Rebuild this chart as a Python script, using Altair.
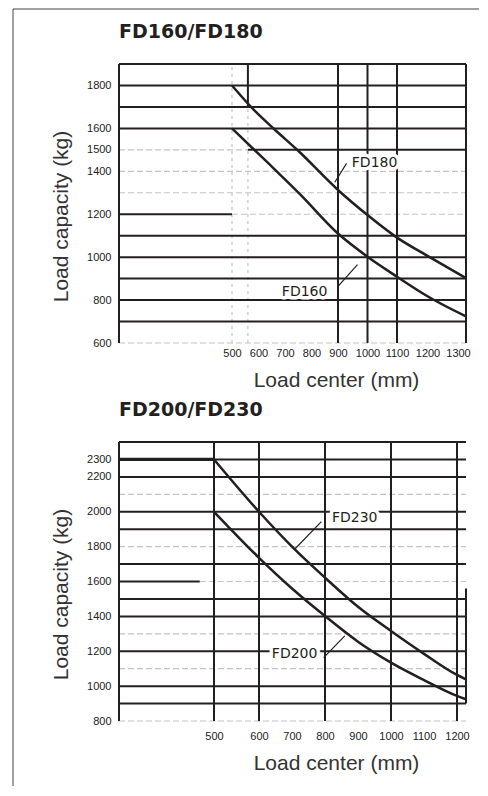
import altair as alt
import pandas as pd

INK = "#231f20"
FAINT = "#c4c4c4"

# ---------------- FD160 / FD180 (upper panel) ----------------
top_title = "FD160/FD180"
top_x_ticks = [500, 600, 700, 800, 900, 1000, 1100, 1200, 1300]
top_y_ticks = [600, 800, 1000, 1200, 1400, 1500, 1600, 1800]
top_x_breaks = [0, 500, 900, 1100, 1300, 1330]
top_x_range = [0, 113, 219, 278, 339, 347]
top_y_domain = [600, 1900]

fd180_x = [500, 578, 660, 748, 900, 1000, 1100, 1200, 1330]
fd180_y = [1800, 1692, 1596, 1498, 1313, 1196, 1091, 1006, 902]
fd160_x = [500, 635, 760, 900, 1000, 1100, 1200, 1330]
fd160_y = [1600, 1440, 1289, 1110, 1002, 909, 818, 724]

top_h_level = [1900, 1800, 1700, 1600, 1500, 1500, 1400, 1300, 1200, 1200, 1100, 1000, 900, 800, 700, 600]
top_h_from = [0, 0, 0, 0, 560, 0, 0, 0, 0, 500, 0, 0, 0, 0, 0, 0]
top_h_to = [1330, 1330, 1330, 1330, 1330, 560, 1330, 1330, 500, 1330, 1330, 1330, 1330, 1330, 1330, 1330]
top_h_style = ["solid", "solid", "solid", "solid", "solid", "faint", "faint", "faint",
               "solid", "faint", "solid", "solid", "solid", "solid", "solid", "faint"]

top_v_pos = [0, 1330, 900, 1000, 1100, 500, 560, 560]
top_v_from = [600, 600, 600, 600, 600, 600, 1700, 600]
top_v_to = [1900, 1900, 1900, 1900, 1900, 1900, 1900, 1700]
top_v_style = ["solid", "solid", "solid", "solid", "solid", "faint", "solid", "faint"]

top_ann_text = ["FD180", "FD160"]
top_ann_x = [1024, 774]
top_ann_y = [1437, 836]
top_lead_xa = [929, 900]
top_lead_ya = [1437, 864]
top_lead_xb = [888, 966]
top_lead_yb = [1349, 965]

# ---------------- FD200 / FD230 (lower panel) ----------------
bot_title = "FD200/FD230"
bot_x_ticks = [500, 600, 700, 800, 900, 1000, 1100, 1200]
bot_y_ticks = [800, 1000, 1200, 1400, 1600, 1800, 2000, 2200, 2300]
bot_x_breaks = [0, 500, 600, 1200, 1227]
bot_x_range = [0, 95, 140, 338, 347]
bot_y_domain = [800, 2400]

fd230_x = [500, 600, 700, 800, 900, 1000, 1100, 1200, 1227]
fd230_y = [2300, 2000, 1800, 1622, 1455, 1316, 1185, 1064, 1039]
fd230_flat_x = [0, 500]
fd230_flat_y = [2300, 2300]
fd200_x = [500, 600, 700, 800, 900, 1000, 1100, 1200, 1227]
fd200_y = [2000, 1736, 1560, 1402, 1255, 1135, 1035, 944, 925]

bot_h_level = [2400, 2300, 2200, 2100, 2000, 1900, 1800, 1700, 1600, 1600, 1500, 1400, 1300, 1200, 1100, 1000, 900, 800]
bot_h_from = [0, 0, 0, 0, 0, 0, 0, 0, 0, 425, 0, 0, 0, 0, 0, 0, 0, 0]
bot_h_to = [1227, 1227, 1227, 1227, 1227, 1227, 1227, 1227, 425, 1227, 1227, 1227, 1227, 1227, 1227, 1227, 1227, 1227]
bot_h_style = ["solid", "solid", "solid", "faint", "solid", "solid", "faint", "solid", "solid", "faint",
               "solid", "solid", "faint", "solid", "faint", "solid", "solid", "faint"]

bot_v_pos = [0, 500, 600, 800, 1000, 1200, 1227]
bot_v_from = [800, 800, 800, 800, 800, 800, 900]
bot_v_to = [2400, 2400, 2400, 2400, 2400, 2400, 1560]
bot_v_style = ["solid"] * 7

bot_ann_text = ["FD230", "FD200"]
bot_ann_x = [890, 708]
bot_ann_y = [1966, 1183]
bot_lead_xa = [789, 796]
bot_lead_ya = [1943, 1163]
bot_lead_xb = [708, 860]
bot_lead_yb = [1785, 1288]


def series_df(pairs):
    rows = []
    for name, xs, ys in pairs:
        for a, b in zip(xs, ys):
            rows.append({"series": name, "x": a, "y": b})
    return pd.DataFrame(rows)


def panel(title, breaks, rng, ydom, xticks, yticks, curves, flats, hg, vg, ann, lead,
          x_label_pad, x_title_y, title_offset, frame=False):
    xs = alt.Scale(domain=breaks, range=rng, nice=False, zero=False)
    ys = alt.Scale(domain=ydom, nice=False, zero=False)
    xaxis = alt.Axis(values=xticks, format="d", title="Load center (mm)", grid=False, ticks=False,
                     domain=False, labelOverlap=False, labelFlush=False, labelPadding=x_label_pad,
                     titleX=217, titleY=x_title_y, titleAlign="center", titleBaseline="alphabetic")
    yaxis = alt.Axis(values=yticks, format="d", title="Load capacity (kg)", grid=False, ticks=False,
                     domain=False, labelOverlap=False, labelFlush=False, labelPadding=8,
                     titleAngle=270, titleX=-52, titleY=152, titleAlign="center",
                     titleBaseline="alphabetic")

    hdf = pd.DataFrame({"level": hg[0], "x1": hg[1], "x2": hg[2], "style": hg[3]})
    vdf = pd.DataFrame({"pos": vg[0], "y1": vg[1], "y2": vg[2], "style": vg[3]})
    adf = pd.DataFrame({"label": ann[0], "x": ann[1], "y": ann[2]})
    ldf = pd.DataFrame({"xa": lead[0], "ya": lead[1], "xb": lead[2], "yb": lead[3]})

    def hlayer(style, **kw):
        return alt.Chart(hdf).transform_filter(alt.datum.style == style).mark_rule(**kw).encode(
            x=alt.X("x1:Q", scale=xs, axis=xaxis), x2="x2:Q",
            y=alt.Y("level:Q", scale=ys, axis=yaxis))

    def vlayer(style, **kw):
        return alt.Chart(vdf).transform_filter(alt.datum.style == style).mark_rule(**kw).encode(
            x=alt.X("pos:Q", scale=xs, axis=xaxis),
            y=alt.Y("y1:Q", scale=ys, axis=yaxis), y2="y2:Q")

    layers = [
        hlayer("faint", color=FAINT, strokeWidth=1.2, strokeDash=[6, 3]),
        vlayer("faint", color=FAINT, strokeWidth=1.2, strokeDash=[3, 4]),
        hlayer("solid", color=INK, strokeWidth=2),
        vlayer("solid", color=INK, strokeWidth=2),
    ]
    if flats is not None:
        layers.append(alt.Chart(flats).mark_line(color=INK, strokeWidth=3.2).encode(
            x=alt.X("x:Q", scale=xs, axis=xaxis), y=alt.Y("y:Q", scale=ys, axis=yaxis),
            detail="series:N"))
    layers += [
        alt.Chart(curves).mark_line(color=INK, strokeWidth=2.5, interpolate="monotone").encode(
            x=alt.X("x:Q", scale=xs, axis=xaxis), y=alt.Y("y:Q", scale=ys, axis=yaxis),
            detail="series:N"),
        alt.Chart(ldf).mark_rule(color=INK, strokeWidth=1.2).encode(
            x=alt.X("xa:Q", scale=xs, axis=xaxis), y=alt.Y("ya:Q", scale=ys, axis=yaxis),
            x2="xb:Q", y2="yb:Q"),
        alt.Chart(adf).mark_text(font="DejaVu Sans", fontSize=14, color="white", stroke="white",
                                 strokeWidth=7, strokeJoin="round").encode(
            x=alt.X("x:Q", scale=xs, axis=xaxis), y=alt.Y("y:Q", scale=ys, axis=yaxis), text="label:N"),
        alt.Chart(adf).mark_text(font="DejaVu Sans", fontSize=14, color=INK).encode(
            x=alt.X("x:Q", scale=xs, axis=xaxis), y=alt.Y("y:Q", scale=ys, axis=yaxis), text="label:N"),
    ]
    if frame:
        one = alt.Data(values=[{"k": 1}])
        layers += [
            alt.Chart(one).mark_rule(color="#444", strokeWidth=1).encode(
                x=alt.value(-106), x2=alt.value(360), y=alt.value(-55)),
            alt.Chart(one).mark_rule(color="#444", strokeWidth=1).encode(
                x=alt.value(-106), y=alt.value(-55), y2=alt.value(722)),
        ]
    return alt.layer(*layers).properties(
        width=347, height=279,
        title=alt.TitleParams(title, anchor="start", frame="group", offset=title_offset,
                              baseline="alphabetic", font="DejaVu Sans", fontSize=19,
                              fontWeight="bold", color=INK))


top_curves = series_df([("FD180", fd180_x, fd180_y), ("FD160", fd160_x, fd160_y)])
bot_curves = series_df([("FD230", fd230_x, fd230_y), ("FD200", fd200_x, fd200_y)])
bot_flats = series_df([("FD230", fd230_flat_x, fd230_flat_y)])

top = panel(top_title, top_x_breaks, top_x_range, top_y_domain, top_x_ticks, top_y_ticks,
            top_curves, None,
            (top_h_level, top_h_from, top_h_to, top_h_style),
            (top_v_pos, top_v_from, top_v_to, top_v_style),
            (top_ann_text, top_ann_x, top_ann_y),
            (top_lead_xa, top_lead_ya, top_lead_xb, top_lead_yb),
            x_label_pad=4, x_title_y=43, title_offset=-48.5, frame=True)

bot = panel(bot_title, bot_x_breaks, bot_x_range, bot_y_domain, bot_x_ticks, bot_y_ticks,
            bot_curves, bot_flats,
            (bot_h_level, bot_h_from, bot_h_to, bot_h_style),
            (bot_v_pos, bot_v_from, bot_v_to, bot_v_style),
            (bot_ann_text, bot_ann_x, bot_ann_y),
            (bot_lead_xa, bot_lead_ya, bot_lead_xb, bot_lead_yb),
            x_label_pad=9, x_title_y=48, title_offset=6)

chart = alt.vconcat(top, bot, spacing=99, bounds="flush").properties(
    padding={"left": 4, "top": 0, "right": 0, "bottom": 0},
    background="white",
).configure_view(stroke=None).configure_axis(
    labelFont="Liberation Sans", labelFontSize=11, labelColor="#222",
    titleFont="Liberation Sans", titleFontSize=21, titleFontWeight="normal", titleColor="#333"
)

chart.save("out.html", embed_options={"renderer": "svg", "actions": False})
